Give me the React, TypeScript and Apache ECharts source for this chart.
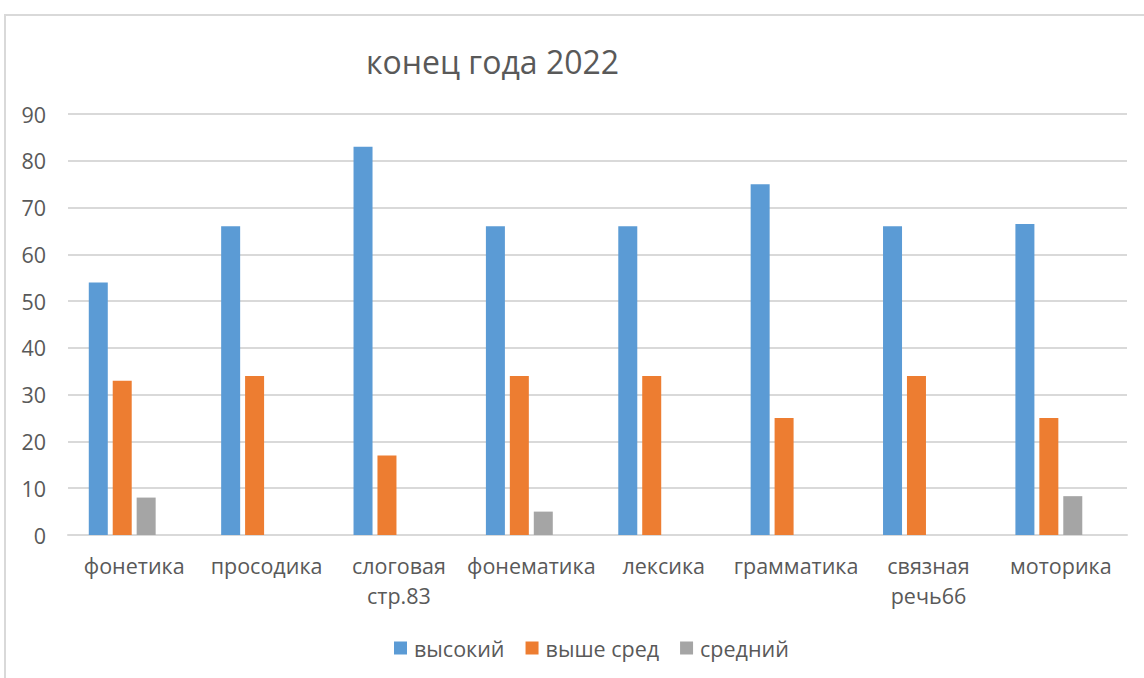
import React, { useEffect, useRef } from "react";
import * as echarts from "echarts";

const categories = [
  "фонетика",
  "просодика",
  "слоговая стр.83",
  "фонематика",
  "лексика",
  "грамматика",
  "связная речь66",
  "моторика",
];
const seriesNames = ["высокий", "выше сред", "средний", ""];
const high = [54, 66, 83, 66, 66, 75, 66, 66.5];
const aboveAvg = [33, 34, 17, 34, 34, 25, 34, 25];
const avg: (number | null)[] = [8, null, null, 5, null, null, null, 8.3];
// the source chart keeps an empty fourth series slot (bars are shifted left of each label)
const emptySlot: (number | null)[] = [null, null, null, null, null, null, null, null];
const yTicks = { min: 0, max: 90, interval: 10 };
const titleText = "конец года 2022";

const colors = ["#5B9BD5", "#ED7D31", "#A5A5A5", "#FFC000"];
const FONT = "'Open Sans', 'Noto Sans', sans-serif";

export default function App() {
  const ref = useRef<HTMLDivElement>(null);
  useEffect(() => {
    if (!ref.current) return;
    const chart = echarts.init(ref.current, undefined, { renderer: "svg" });
    const mk = (name: string, data: (number | null)[], color: string) => ({
      name,
      type: "bar",
      data,
      barWidth: 19,
      barGap: "26%",
      itemStyle: { color },
    });
    chart.setOption({
      animation: false,
      textStyle: { fontFamily: FONT },
      title: {
        text: titleText,
        left: 361,
        top: 40,
        textStyle: { fontFamily: FONT, fontSize: 32, fontWeight: "normal", color: "#595959" },
      },
      legend: {
        data: seriesNames.slice(0, 3),
        left: 389,
        top: 632,
        itemWidth: 13,
        itemHeight: 13,
        itemGap: 21,
        icon: "rect",
        textStyle: { fontFamily: FONT, fontSize: 21.5, color: "#595959", padding: [0, 0, 0, 2] },
      },
      grid: { left: 68, right: 17, top: 114, bottom: 143 },
      xAxis: {
        type: "category",
        data: categories,
        axisLine: { lineStyle: { color: "#D9D9D9", width: 2 } },
        axisTick: { show: false },
        axisLabel: {
          fontFamily: FONT,
          fontSize: 21.5,
          color: "#595959",
          margin: 15,
          lineHeight: 30,
          interval: 0,
          formatter: (v: string) => v.replace(" ", "\n"),
        },
      },
      yAxis: {
        type: "value",
        min: yTicks.min,
        max: yTicks.max,
        interval: yTicks.interval,
        axisLine: { show: false },
        axisTick: { show: false },
        splitLine: { lineStyle: { color: "#D9D9D9", width: 2 } },
        axisLabel: { fontFamily: FONT, fontSize: 21.5, color: "#595959", margin: 22 },
      },
      graphic: [
        {
          type: "rect",
          shape: { x: 5, y: 15, width: 1300, height: 800 },
          style: { fill: "none", stroke: "#D9D9D9", lineWidth: 2 },
          silent: true,
        },
      ],
      series: [
        mk(seriesNames[0], high, colors[0]),
        mk(seriesNames[1], aboveAvg, colors[1]),
        mk(seriesNames[2], avg, colors[2]),
        mk("пусто", emptySlot, colors[3]),
      ],
    });
    return () => chart.dispose();
  }, []);
  return (
    <div
      ref={ref}
      style={{ position: "fixed", left: 0, top: 0, width: 1144, height: 678, background: "#fff" }}
    />
  );
}
